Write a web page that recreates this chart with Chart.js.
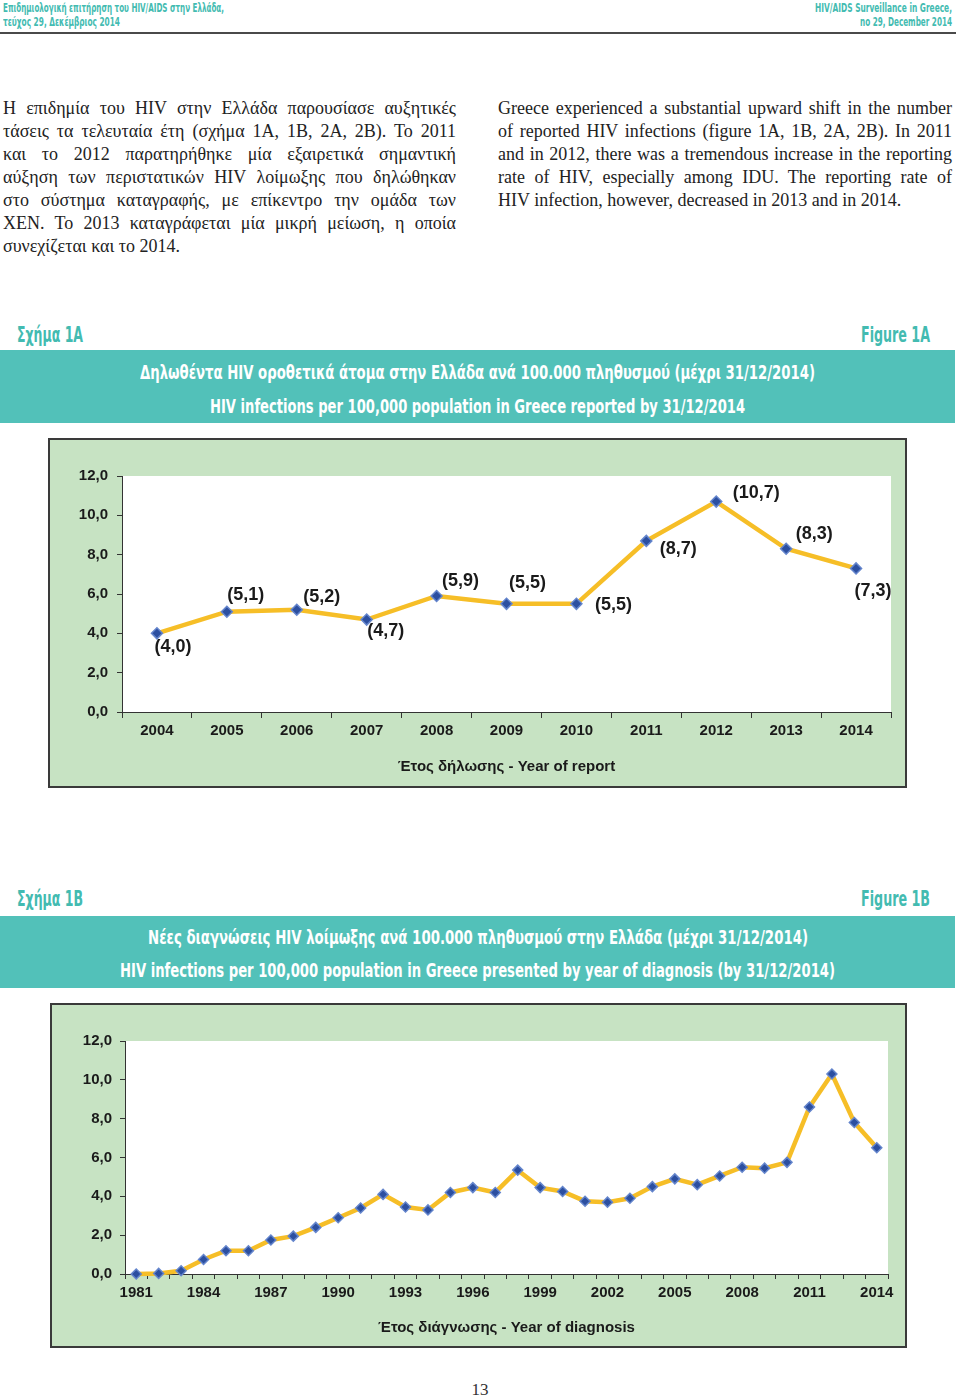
<!DOCTYPE html>
<html>
<head>
<meta charset="utf-8">
<script src="https://cdn.jsdelivr.net/npm/chart.js@4/dist/chart.umd.min.js"></script>
<style>
  body { margin:0; width:960px; height:1399px; position:relative; background:#fff; overflow:hidden; }
  .cond { position:absolute; white-space:nowrap; font-family:"Liberation Sans Narrow","DejaVu Sans Condensed","Roboto Condensed","Liberation Sans",sans-serif; font-weight:bold; line-height:20px; transform-origin:0 50%; }
  .teal { color:#43bbb1; }
  .white { color:#fff; }
  .rule { position:absolute; left:0; top:32px; width:956px; height:2px; background:#4a4a4a; }
  .para { position:absolute; top:97px; font-family:"Liberation Serif","DejaVu Serif",serif; font-size:18px; line-height:23px; color:#222; }
  .para div { text-align:justify; text-align-last:justify; }
  .para div.last { text-align-last:left; }
  .band { position:absolute; left:0; width:955px; background:#52c1b9; }
  .box { position:absolute; border:2px solid #3a3a3a; background:#c7e3c3; }
  .box canvas { display:block; }
  .pnum { position:absolute; left:0; width:960px; top:1380px; text-align:center; font-family:"Liberation Serif",serif; font-size:17px; color:#333; }
</style>
</head>
<body>

<span class="cond teal" style="left:3px;top:-2px;font-size:13px" data-w="221">Επιδημιολογική επιτήρηση του HIV/AIDS στην Ελλάδα,</span>
<span class="cond teal" style="left:3px;top:12px;font-size:13px" data-w="117">τεύχος 29, Δεκέμβριος 2014</span>
<span class="cond teal" style="left:815px;top:-2px;font-size:13px" data-w="137">HIV/AIDS Surveillance in Greece,</span>
<span class="cond teal" style="left:860px;top:12px;font-size:13px" data-w="92">no 29, December 2014</span>
<div class="rule"></div>

<div class="para" style="left:3px;width:453px">
  <div>Η επιδημία του HIV στην Ελλάδα παρουσίασε αυξητικές</div>
  <div>τάσεις τα τελευταία έτη (σχήμα 1A, 1B, 2A, 2B). Το 2011</div>
  <div>και το 2012 παρατηρήθηκε μία εξαιρετικά σημαντική</div>
  <div>αύξηση των περιστατικών HIV λοίμωξης που δηλώθηκαν</div>
  <div>στο σύστημα καταγραφής, με επίκεντρο την ομάδα των</div>
  <div>ΧΕΝ. Το 2013 καταγράφεται μία μικρή μείωση, η οποία</div>
  <div class="last">συνεχίζεται και το 2014.</div>
</div>
<div class="para" style="left:498px;width:454px">
  <div>Greece experienced a substantial upward shift in the number</div>
  <div>of reported HIV infections (figure 1A, 1B, 2A, 2B). In 2011</div>
  <div>and in 2012, there was a tremendous increase in the reporting</div>
  <div>rate of HIV, especially among IDU. The reporting rate of</div>
  <div class="last">HIV infection, however, decreased in 2013 and in 2014.</div>
</div>

<span class="cond teal" style="left:17px;top:325px;font-size:22px" data-w="66">Σχήμα 1A</span>
<span class="cond teal" style="left:861px;top:325px;font-size:22px" data-w="69">Figure 1A</span>
<div class="band" style="top:350px;height:73px"></div>
<span class="cond white" style="left:140px;top:362px;font-size:20px" data-w="675">Δηλωθέντα HIV οροθετικά άτομα στην Ελλάδα ανά 100.000 πληθυσμού (μέχρι 31/12/2014)</span>
<span class="cond white" style="left:210px;top:396px;font-size:20px" data-w="535">HIV infections per 100,000 population in Greece reported by 31/12/2014</span>

<div class="box" style="left:48px;top:438px;width:855px;height:346px"><canvas id="chart1a"></canvas></div>

<span class="cond teal" style="left:17px;top:889px;font-size:22px" data-w="66">Σχήμα 1B</span>
<span class="cond teal" style="left:861px;top:889px;font-size:22px" data-w="69">Figure 1B</span>
<div class="band" style="top:916px;height:72px"></div>
<span class="cond white" style="left:148px;top:927px;font-size:20px" data-w="660">Νέες διαγνώσεις HIV λοίμωξης ανά 100.000 πληθυσμού στην Ελλάδα (μέχρι 31/12/2014)</span>
<span class="cond white" style="left:120px;top:960px;font-size:20px" data-w="715">HIV infections per 100,000 population in Greece presented by year of diagnosis (by 31/12/2014)</span>

<div class="box" style="left:50px;top:1003px;width:853px;height:341px"><canvas id="chart1b"></canvas></div>

<div class="pnum">13</div>

<script>
// Figure 1A - year of report
var reportYears = ['2004','2005','2006','2007','2008','2009','2010','2011','2012','2013','2014'];
var reportRate = [4.0, 5.1, 5.2, 4.7, 5.9, 5.5, 5.5, 8.7, 10.7, 8.3, 7.3];

// Figure 1B - year of diagnosis
var diagYears = ['1981','1982','1983','1984','1985','1986','1987','1988','1989','1990',
  '1991','1992','1993','1994','1995','1996','1997','1998','1999','2000',
  '2001','2002','2003','2004','2005','2006','2007','2008','2009','2010',
  '2011','2012','2013','2014'];
var diagRate = [0.0, 0.03, 0.17, 0.75, 1.2, 1.2, 1.75, 1.95, 2.4, 2.9,
  3.4, 4.1, 3.45, 3.3, 4.2, 4.45, 4.2, 5.35, 4.45, 4.25,
  3.75, 3.7, 3.9, 4.5, 4.9, 4.6, 5.05, 5.5, 5.45, 5.75,
  8.6, 10.3, 7.8, 6.5];

var yTicks = [0, 2, 4, 6, 8, 10, 12];

// where each value label of 1A sits relative to its point (dx, dy)
var labelShift = [[16,14],[19,-17],[25,-13],[19,11],[24,-15],[21,-21],[37,1],[32,8],[40,-9],[28,-15],[17,23]];

var fmt = function(v) { return v.toFixed(1).replace('.', ','); };
var axisFont = { family: "'Liberation Sans', Arial, sans-serif", size: 15, weight: 'bold' };

// fit condensed headings to their widths
document.querySelectorAll('[data-w]').forEach(function(el) {
  var w = el.getBoundingClientRect().width;
  el.style.transform = 'scaleX(' + (el.dataset.w / w) + ')';
});

var plotBg = {
  id: 'plotBg',
  beforeDraw: function(c) {
    var a = c.chartArea;
    c.ctx.save();
    c.ctx.fillStyle = '#fff';
    c.ctx.fillRect(a.left, a.top, a.right - a.left, a.bottom - a.top);
    c.ctx.restore();
  }
};

var valueLabels = {
  id: 'valueLabels',
  afterDatasetsDraw: function(c, args, opts) {
    if (!opts.shift) return;
    var ctx = c.ctx;
    var pts = c.getDatasetMeta(0).data;
    var vals = c.data.datasets[0].data;
    ctx.save();
    ctx.font = "bold 18px 'Liberation Sans', Arial, sans-serif";
    ctx.fillStyle = '#1a1a1a';
    ctx.textAlign = 'center';
    ctx.textBaseline = 'middle';
    for (var i = 0; i < pts.length; i++) {
      ctx.fillText('(' + fmt(vals[i]) + ')', pts[i].x + opts.shift[i][0], pts[i].y + opts.shift[i][1]);
    }
    ctx.restore();
  }
};

var makeChart = function(id, w, h, labels, data, opt) {
  var cv = document.getElementById(id);
  cv.width = w; cv.height = h;
  cv.style.width = w + 'px'; cv.style.height = h + 'px';
  return new Chart(cv, {
    type: 'line',
    data: {
      labels: labels,
      datasets: [{
        data: data,
        borderColor: '#f6be27',
        borderWidth: 4.5,
        tension: 0,
        clip: false,
        pointStyle: 'rectRot',
        pointRadius: opt.radius,
        pointBackgroundColor: '#2c4fa0',
        pointBorderColor: '#6485cc',
        pointBorderWidth: 1.5
      }]
    },
    options: {
      responsive: false,
      animation: false,
      layout: { padding: { left: 0, top: 36, right: opt.padRight, bottom: 0 } },
      plugins: {
        legend: { display: false },
        tooltip: { enabled: false },
        valueLabels: { shift: opt.shift }
      },
      scales: {
        x: {
          offset: true,
          grid: { offset: true, drawOnChartArea: false, drawTicks: true, tickLength: opt.xTick, color: '#333' },
          border: { color: '#333', width: 1 },
          ticks: {
            color: '#1a1a1a', font: axisFont, padding: opt.xPad, maxRotation: 0, autoSkip: false,
            callback: function(v, i) { return i % opt.every === 0 ? this.getLabelForValue(v) : ''; }
          },
          title: { display: true, text: opt.title, color: '#1a1a1a', font: axisFont, padding: { top: 0, bottom: opt.titlePad } },
          afterFit: function(s) { s.height = opt.xHeight; }
        },
        y: {
          min: 0, max: 12,
          afterBuildTicks: function(s) { s.ticks = yTicks.map(function(v) { return { value: v }; }); },
          grid: { drawOnChartArea: false, drawTicks: true, tickLength: 5, color: '#333' },
          border: { color: '#333', width: 1 },
          ticks: { color: '#1a1a1a', font: axisFont, padding: opt.yPad, callback: function(v) { return fmt(v); } },
          afterFit: function(s) { s.width = opt.yWidth; }
        }
      }
    },
    plugins: [plotBg, valueLabels]
  });
};

makeChart('chart1a', 855, 346, reportYears, reportRate, {
  radius: 5.5, padRight: 14, yWidth: 72, yPad: 9, xHeight: 74, xTick: 6, xPad: 4, titlePad: 10,
  every: 1, title: 'Έτος δήλωσης - Year of report', shift: labelShift
});

makeChart('chart1b', 853, 341, diagYears, diagRate, {
  radius: 5, padRight: 17, yWidth: 73, yPad: 8, xHeight: 72, xTick: 5, xPad: 5, titlePad: 9,
  every: 3, title: 'Έτος διάγνωσης - Year of diagnosis', shift: null
});
</script>
</body>
</html>
